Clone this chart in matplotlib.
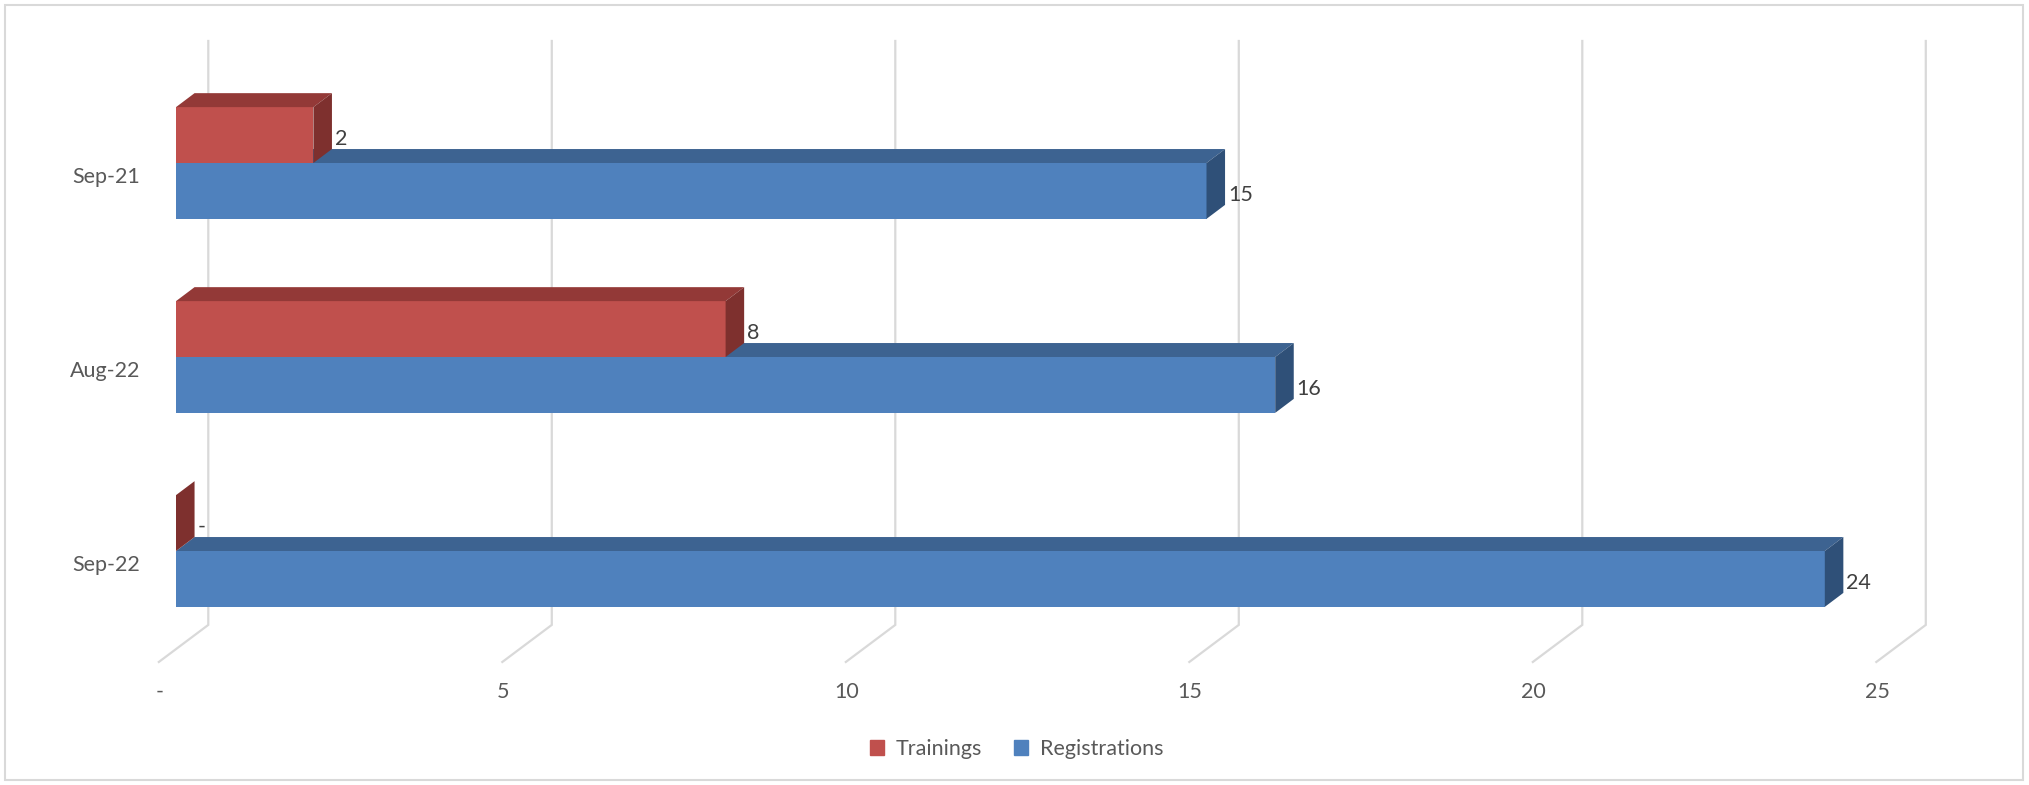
import matplotlib
matplotlib.use("Agg")
import matplotlib.pyplot as plt
from matplotlib.patches import Rectangle, Patch

# data
months = ["Sep-21", "Aug-22", "Sep-22"]
trainings = [2, 8, 0]
registrations = [15, 16, 24]
ticks = [0, 5, 10, 15, 20, 25]

plt.rcParams['font.family'] = ['Lato', 'DejaVu Sans']
plt.rcParams['font.size'] = 15.5
grey = '#595959'

# colours: front, top, side
red = ('#C0504D', '#933937', '#7E302E')
blue = ('#4F81BD', '#3D6391', '#2F5078')

bar_h = 0.288   # height of one bar (category units)
dx = 0.27       # depth offset along value axis
dy = 0.072      # depth offset upwards (category units)


def fmt(v):
    return "-" if v == 0 else str(v)


def bar3d(ax, val, y0, y1, cols):
    # y0 = top edge of front face, y1 = bottom edge (axis is inverted)
    front, top, side = cols
    ax.fill([0, val, val, 0], [y0, y0, y1, y1], color=front, lw=0, zorder=3)
    ax.fill([0, val, val + dx, dx], [y0, y0, y0 - dy, y0 - dy], color=top, lw=0, zorder=3)
    ax.fill([val, val, val + dx, val + dx], [y0, y1, y1 - dy, y0 - dy], color=side, lw=0, zorder=3)


fig = plt.figure(figsize=(20.29, 7.85), dpi=100)
ax = fig.add_axes([0, 0, 1, 1])
ax.set_xlim(-176 / 68.7, (2029 - 176) / 68.7)
ax.set_ylim((785 - 163) / 194, -163 / 194)
ax.axis('off')

# back wall gridlines with the floor slant
for v in ticks:
    ax.plot([v + 0.47, v + 0.47, v + 0.47 - 0.72], [-0.629, 2.381, 2.572],
            color='#D9D9D9', lw=1.6, zorder=1, solid_joinstyle='miter')
    ax.text(v - 0.24, 2.727, fmt(v), ha='center', va='center', color=grey)

for i, m in enumerate(months):
    bar3d(ax, registrations[i], i, i + bar_h, blue)
    bar3d(ax, trainings[i], i - bar_h, i, red)
    ax.text(-0.52, i + 0.072, m, ha='right', va='center', color=grey)
    ax.text(trainings[i] + dx + 0.04, i - bar_h / 2 + 0.02, fmt(trainings[i]),
            ha='left', va='center', color='#404040', zorder=4)
    ax.text(registrations[i] + dx + 0.04, i + bar_h / 2 + 0.02, fmt(registrations[i]),
            ha='left', va='center', color='#404040', zorder=4)

handles = [Patch(color=red[0]), Patch(color=blue[0])]
fig.legend(handles, ["Trainings", "Registrations"], loc='center',
           bbox_to_anchor=(0.501, 0.046), ncol=2, frameon=False,
           handlelength=0.65, handleheight=0.65, handletextpad=0.55,
           columnspacing=1.5, labelcolor=grey, fontsize=15.5)

fig.add_artist(Rectangle((5 / 2029, 5 / 785), 2018 / 2029, 775 / 785,
                         transform=fig.transFigure, fill=False,
                         ec='#D9D9D9', lw=1.5))

fig.savefig('out.png', dpi=100)
